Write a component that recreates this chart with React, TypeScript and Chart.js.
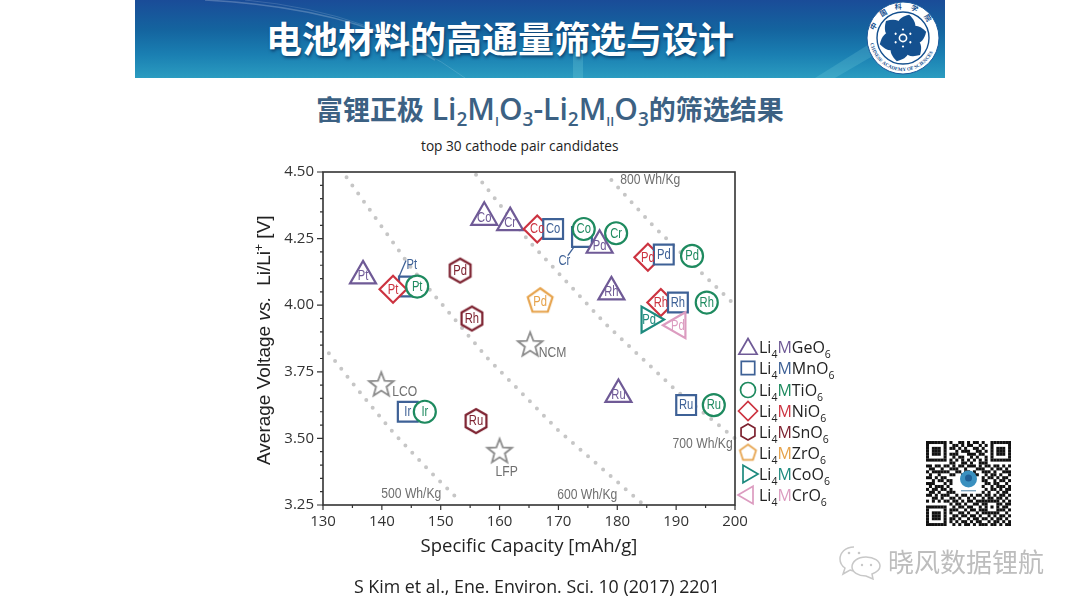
import React, { useEffect, useRef } from 'react';
import { Chart, registerables } from 'chart.js';
import { drawPoint } from 'chart.js/helpers';

Chart.register(...registerables);

// Values: capacity in mAh/g, voltage in V, metal inside each marker
const geCapacity = [136.8, 157.4, 161.8, 177, 179, 180.2];
const geVoltage = [4.11, 4.33, 4.31, 4.225, 4.05, 3.665];
const geMetals = ['Pt', 'Co', 'Cr', 'Pd', 'Rh', 'Ru'];

const mnCapacity = [169.1, 187.9, 190.3, 191.7, 144.4];
const mnVoltage = [4.286, 4.19, 4.01, 3.625, 3.6];
const mnMetals = ['Co', 'Pd', 'Rh', 'Ru', 'Ir'];

// these two sit behind the other markers and are named through a leader line
const mnHiddenCapacity = [144.6, 174];
const mnHiddenVoltage = [4.07, 4.256];

const tiCapacity = [146, 174.3, 179.8, 192.7, 195.2, 196.4, 147.3];
const tiVoltage = [4.07, 4.286, 4.27, 4.185, 4.01, 3.625, 3.6];
const tiMetals = ['Pt', 'Co', 'Cr', 'Pd', 'Rh', 'Ru', 'Ir'];

const niCapacity = [141.9, 166.4, 185.2, 187.4];
const niVoltage = [4.06, 4.286, 4.18, 4.01];
const niMetals = ['Pt', 'Co', 'Pd', 'Rh'];

const snCapacity = [153.3, 155.3, 156];
const snVoltage = [4.13, 3.95, 3.565];
const snMetals = ['Pd', 'Rh', 'Ru'];

const zrCapacity = [166.9];
const zrVoltage = [4.015];
const zrMetals = ['Pd'];

const coCapacity = [185.4];
const coVoltage = [3.946];
const coMetals = ['Pd'];

const crCapacity = [190.3];
const crVoltage = [3.925];
const crMetals = ['Pd'];

const refCapacity = [139.9, 165.2, 160];
const refVoltage = [3.7, 3.85, 3.45];

// dotted iso-energy guides
const wh500Capacity = [131, 136, 142, 148, 153];
const wh500Voltage = [3.82, 3.68, 3.52, 3.38, 3.27];
const wh600Capacity = [134, 145, 158, 170, 184];
const wh600Voltage = [4.48, 4.14, 3.8, 3.53, 3.26];
const wh700Capacity = [156, 165, 178, 190, 200];
const wh700Voltage = [4.49, 4.24, 3.93, 3.68, 3.5];
const wh800Capacity = [179, 186, 193, 200];
const wh800Voltage = [4.47, 4.3, 4.15, 4.0];

const legendNames = ['Ge', 'Mn', 'Ti', 'Ni', 'Sn', 'Zr', 'Co', 'Cr'];

const PURPLE = '#6f5a96';
const BLUE = '#3e6196';
const GREEN = '#1e8a5f';
const RED = '#cc3340';
const MAROON = '#7d2230';
const ORANGE = '#e6a24a';
const TEAL = '#1d8a7e';
const PINK = '#dc9cc0';
const GREY = '#8b8b8b';
const INK = '#333333';
const SANS = '"Liberation Sans", sans-serif';
const OPEN = '"Open Sans", sans-serif';

const qrRows = [
  '11111110100110101101001111111',
  '10000010011010110010101000001',
  '10111010110101001101001011101',
  '10111010001011100110101011101',
  '10111010111000111011001011101',
  '10000010010110010100101000001',
  '11111110101010101010101111111',
  '00000000110011010011100000000',
  '11011011010110111010110110101',
  '01100100111001000111001011010',
  '10111111001101101001110100111',
  '01001000110010011100101101001',
  '11010110000000000001011010110',
  '00101101100000000001100101101',
  '11100010100000000000110110010',
  '01011101000000000001001011101',
  '10110110100000000000101101011',
  '01101001110000000001010010110',
  '11010111001011010110110101101',
  '00110100110100101001011011010',
  '10101011011010110111111110101',
  '00000000101101001101100011011',
  '11111110010110110010101010110',
  '10000010111001011011100011101',
  '10111010100110100101111110010',
  '10111010011011011010010101101',
  '10111010110100101101101011010',
  '10000010101011010110010110101',
  '11111110010101101011101101011',
];

function outline(points: number[][], size: number, color: string, width: number) {
  const canvas = document.createElement('canvas');
  canvas.width = size;
  canvas.height = size;
  const ctx = canvas.getContext('2d')!;
  ctx.translate(size / 2, size / 2);
  ctx.beginPath();
  points.forEach(([x, y], i) => (i ? ctx.lineTo(x, y) : ctx.moveTo(x, y)));
  ctx.closePath();
  ctx.fillStyle = '#ffffff';
  ctx.fill();
  ctx.strokeStyle = color;
  ctx.lineWidth = width;
  ctx.lineJoin = 'miter';
  ctx.stroke();
  return canvas;
}

function ring(sides: number, radius: number) {
  const pts: number[][] = [];
  for (let i = 0; i < sides; i++) {
    const a = -Math.PI / 2 + (i * 2 * Math.PI) / sides;
    pts.push([Math.cos(a) * radius, Math.sin(a) * radius]);
  }
  return pts;
}

function starRing(outer: number, inner: number) {
  const pts: number[][] = [];
  for (let i = 0; i < 10; i++) {
    const a = -Math.PI / 2 + (i * Math.PI) / 5;
    const r = i % 2 ? inner : outer;
    pts.push([Math.cos(a) * r, Math.sin(a) * r]);
  }
  return pts;
}

const hexagon = (r: number, w = 2.2) => outline(ring(6, r), Math.ceil(r * 2 + 6), MAROON, w);
const pentagon = (r: number, w = 2.2) => outline(ring(5, r), Math.ceil(r * 2 + 6), ORANGE, w);

// [x, y, text] in data units; free labels on the plot
const guideLabels: [number, number, string][] = [
  [145, 3.29, '500 Wh/Kg'],
  [174.9, 3.288, '600 Wh/Kg'],
  [194.5, 3.48, '700 Wh/Kg'],
  [185.6, 4.47, '800 Wh/Kg'],
];
const refLabels: [number, number, string][] = [
  [143.9, 3.675, 'LCO'],
  [169, 3.82, 'NCM'],
  [161.2, 3.375, 'LFP'],
];
const leaderLabels: [number, number, string][] = [
  [145.1, 4.152, 'Pt'],
  [171, 4.166, 'Cr'],
];

// the paper's labels are in a condensed face, so squeeze the installed one
function narrowText(ctx: CanvasRenderingContext2D, text: string, x: number, y: number, squeeze: number) {
  ctx.fillText(text, x, y, ctx.measureText(text).width * squeeze);
}

type Run = { text: string; color?: string; font: string; dy?: number };

function drawRuns(ctx: CanvasRenderingContext2D, runs: Run[], x: number, y: number) {
  let cx = x;
  runs.forEach((run) => {
    ctx.font = run.font;
    ctx.fillStyle = run.color || '#222222';
    ctx.fillText(run.text, cx, y + (run.dy || 0));
    cx += ctx.measureText(run.text).width;
  });
  return cx - x;
}

function ChartPanel() {
  const canvasRef = useRef<HTMLCanvasElement>(null);

  useEffect(() => {
    if (!canvasRef.current) return;

    const series = [
      { xs: geCapacity, ys: geVoltage, names: geMetals, color: PURPLE, style: 'triangle', radius: 15, rotation: 0, order: 6 },
      { xs: mnCapacity, ys: mnVoltage, names: mnMetals, color: BLUE, style: 'rect', radius: 14, rotation: 0, order: 4 },
      { xs: tiCapacity, ys: tiVoltage, names: tiMetals, color: GREEN, style: 'circle', radius: 11, rotation: 0, order: 3 },
      { xs: niCapacity, ys: niVoltage, names: niMetals, color: RED, style: 'rectRot', radius: 13.5, rotation: 0, order: 5 },
      { xs: snCapacity, ys: snVoltage, names: snMetals, color: MAROON, style: hexagon(12), radius: 12, rotation: 0, order: 3 },
      { xs: zrCapacity, ys: zrVoltage, names: zrMetals, color: ORANGE, style: pentagon(13), radius: 13, rotation: 0, order: 3 },
      { xs: coCapacity, ys: coVoltage, names: coMetals, color: TEAL, style: 'triangle', radius: 15, rotation: 90, order: 1 },
      { xs: crCapacity, ys: crVoltage, names: crMetals, color: PINK, style: 'triangle', radius: 15, rotation: 270, order: 2 },
    ];

    const legendMarks: any[] = [
      { style: 'triangle', radius: 10.5, rotation: 0, color: PURPLE },
      { style: 'rect', radius: 9.5, rotation: 0, color: BLUE },
      { style: 'circle', radius: 7.5, rotation: 0, color: GREEN },
      { style: 'rectRot', radius: 9.5, rotation: 0, color: RED },
      { style: hexagon(8, 1.7), radius: 8, rotation: 0, color: MAROON },
      { style: pentagon(8.5, 1.7), radius: 8.5, rotation: 0, color: ORANGE },
      { style: 'triangle', radius: 10, rotation: 90, color: TEAL },
      { style: 'triangle', radius: 10, rotation: 270, color: PINK },
    ];
    const legendRowsY = [347, 368, 390, 411, 432, 453, 474, 495];

    const guide = (xs: number[], ys: number[]) => ({
      type: 'scatter' as const,
      data: xs.map((x, i) => ({ x, y: ys[i] })),
      showLine: true,
      borderColor: '#c6c6c6',
      borderWidth: 4,
      borderDash: [0, 10],
      borderCapStyle: 'round' as const,
      pointRadius: 0,
      order: 20,
    });
    const leader = (xs: number[], ys: number[]) => ({
      type: 'scatter' as const,
      data: xs.map((x, i) => ({ x, y: ys[i] })),
      showLine: true,
      borderColor: BLUE,
      borderWidth: 1.3,
      pointRadius: 0,
      order: 12,
    });

    const datasets: any[] = [
      guide(wh500Capacity, wh500Voltage),
      guide(wh600Capacity, wh600Voltage),
      guide(wh700Capacity, wh700Voltage),
      guide(wh800Capacity, wh800Voltage),
      leader([142.9, 144.1], [4.106, 4.168]),
      leader([173.1, 171.6], [4.233, 4.186]),
      {
        label: 'Li4MMnO6 hidden',
        data: mnHiddenCapacity.map((x, i) => ({ x, y: mnHiddenVoltage[i] })),
        pointStyle: 'rect',
        pointRadius: 14,
        pointBorderWidth: 2.2,
        pointBorderColor: BLUE,
        pointBackgroundColor: '#ffffff',
        order: 10,
      },
      {
        label: 'Reference',
        data: refCapacity.map((x, i) => ({ x, y: refVoltage[i] })),
        pointStyle: outline(starRing(13, 5.5), 32, GREY, 1.8),
        pointRadius: 13,
        order: 9,
      },
      ...series.map((s, idx) => ({
        label: 'Li4M' + legendNames[idx] + 'O6',
        data: s.xs.map((x, i) => ({ x, y: s.ys[i] })),
        pointStyle: s.style,
        pointRadius: s.radius,
        pointRotation: s.rotation,
        pointBorderWidth: 2.2,
        pointBorderColor: s.color,
        pointBackgroundColor: '#ffffff',
        order: s.order,
      })),
    ];

    const overlay = {
      id: 'overlay',
      afterDraw(chart: any) {
        const { ctx, chartArea: area, scales } = chart;
        const xScale = scales.x;
        const yScale = scales.y;
        ctx.save();

        // frame and ticks
        ctx.strokeStyle = INK;
        ctx.lineWidth = 1.6;
        ctx.strokeRect(area.left, area.top, area.right - area.left, area.bottom - area.top);
        ctx.lineWidth = 1.2;
        ctx.beginPath();
        xScale.ticks.forEach((t: any) => {
          const px = xScale.getPixelForValue(t.value);
          ctx.moveTo(px, area.bottom);
          ctx.lineTo(px, area.bottom + (t.value % 10 === 0 ? 5 : 3));
        });
        yScale.ticks.forEach((t: any) => {
          const py = yScale.getPixelForValue(t.value);
          const major = Math.round(t.value * 100) % 25 === 0;
          ctx.moveTo(area.left, py);
          ctx.lineTo(area.left - (major ? 6 : 3), py);
        });
        ctx.stroke();

        // metal names inside the markers
        ctx.textAlign = 'center';
        ctx.textBaseline = 'middle';
        ctx.font = '14px ' + SANS;
        series.forEach((s) => {
          ctx.fillStyle = s.color;
          s.names.forEach((name, i) => {
            narrowText(ctx, name, xScale.getPixelForValue(s.xs[i]), yScale.getPixelForValue(s.ys[i]) + 0.5, 0.8);
          });
        });

        ctx.fillStyle = '#6f6f6f';
        ctx.font = '15px ' + SANS;
        [...guideLabels, ...refLabels].forEach(([x, y, text]) => {
          narrowText(ctx, text, xScale.getPixelForValue(x), yScale.getPixelForValue(y), 0.81);
        });
        ctx.fillStyle = BLUE;
        ctx.font = '14px ' + SANS;
        leaderLabels.forEach(([x, y, text]) => {
          narrowText(ctx, text, xScale.getPixelForValue(x), yScale.getPixelForValue(y), 0.8);
        });

        // legend on the right of the frame
        ctx.textAlign = 'left';
        ctx.textBaseline = 'alphabetic';
        legendNames.forEach((name, i) => {
          const mark = legendMarks[i];
          const y = legendRowsY[i];
          ctx.strokeStyle = mark.color;
          ctx.fillStyle = 'rgba(255,255,255,0)';
          ctx.lineWidth = 1.7;
          drawPoint(ctx, { pointStyle: mark.style, radius: mark.radius, rotation: mark.rotation, borderWidth: 1.7 }, 748, y + (mark.rotation === 0 && mark.style === 'triangle' ? 2 : 0));
          const big = '16px ' + OPEN;
          const small = '10.5px ' + OPEN;
          drawRuns(ctx, [
            { text: 'Li', font: big },
            { text: '4', font: small, dy: 5 },
            { text: 'M', font: big, color: mark.color },
            { text: name + 'O', font: big },
            { text: '6', font: small, dy: 5 },
          ], 759, y + 6);
        });

        // y axis title has italic and superscript parts, so it is drawn by hand
        ctx.translate(270, 465);
        ctx.rotate(-Math.PI / 2);
        const sans = '19px ' + SANS;
        drawRuns(ctx, [
          { text: 'Average Voltage ', font: sans },
          { text: 'vs.', font: 'italic ' + sans },
          { text: '  Li/Li', font: sans },
          { text: '+', font: '12px ' + SANS, dy: -7 },
          { text: ' [V]', font: sans },
        ], 0, 0);

        ctx.restore();
      },
    };

    const chart = new Chart(canvasRef.current, {
      type: 'scatter',
      data: { datasets },
      plugins: [overlay],
      options: {
        responsive: false,
        animation: false,
        clip: false as any,
        layout: { padding: { left: 263, right: 345, top: 172, bottom: 49 } },
        plugins: { legend: { display: false }, title: { display: false }, tooltip: { enabled: false } },
        scales: {
          x: {
            type: 'linear',
            min: 130,
            max: 200,
            afterFit: (scale: any) => {
              scale.height = 53;
            },
            grid: { display: false, drawTicks: false },
            border: { display: false },
            ticks: {
              stepSize: 5,
              autoSkip: false,
              maxRotation: 0,
              padding: 8,
              color: INK,
              font: { family: 'Open Sans', size: 15 },
              callback: (v: any) => (Number(v) % 10 === 0 ? String(v) : ''),
            },
            title: {
              display: true,
              text: 'Specific Capacity [mAh/g]',
              color: '#222222',
              font: { family: 'Open Sans', size: 18.5 },
              padding: { top: 0, bottom: 0 },
            },
          },
          y: {
            type: 'linear',
            min: 3.25,
            max: 4.5,
            afterFit: (scale: any) => {
              scale.width = 60;
            },
            grid: { display: false, drawTicks: false },
            border: { display: false },
            ticks: {
              stepSize: 0.05,
              autoSkip: false,
              padding: 9,
              color: INK,
              font: { family: 'Open Sans', size: 15 },
              callback: (v: any) => (Math.round(Number(v) * 100) % 25 === 0 ? Number(v).toFixed(2) : ''),
            },
          },
        },
      },
    });

    return () => {
      chart.destroy();
    };
  }, []);

  return <canvas ref={canvasRef} width={1080} height={607} style={{ position: 'absolute', left: 0, top: 0 }} />;
}

function Banner() {
  const petals = [0, 60, 120, 180, 240, 300];
  return (
    <div
      style={{
        position: 'absolute',
        left: 135,
        top: 0,
        width: 810,
        height: 78,
        overflow: 'hidden',
        background: 'linear-gradient(180deg, #1a4c98 0%, #14649f 38%, #1a7fb2 70%, #2b9cc0 100%)',
      }}
    >
      <svg width={810} height={78} style={{ position: 'absolute', left: 0, top: 0 }}>
        <path d="M70 0 Q220 8 300 60" stroke="#ffffff" strokeOpacity={0.22} strokeWidth={1.5} fill="none" />
        <path d="M110 0 Q240 12 330 78" stroke="#ffffff" strokeOpacity={0.14} strokeWidth={1} fill="none" />
        <rect x={438} y={52} width={10} height={26} fill="#7fd6e0" fillOpacity={0.25} />
        <path d="M680 78 L760 28 L772 36 L700 78 Z" fill="#7fd6e0" fillOpacity={0.22} />
        <circle cx={768} cy={38} r={36} fill="#ffffff" stroke="#1b5a9c" strokeWidth={1} />
        <circle cx={768} cy={38} r={26} fill="#ffffff" stroke="#14508f" strokeWidth={1.4} />
        <defs>
          <path id="logoTop" d="M739 38 A29 29 0 0 1 797 38" />
          <path id="logoBottom" d="M735 38 A33 33 0 0 0 801 38" />
        </defs>
        <text fill="#14508f" fontSize={7} fontFamily="Noto Sans CJK SC" fontWeight={700} letterSpacing={8}>
          <textPath href="#logoTop" startOffset="8%">中国科学院</textPath>
        </text>
        <text fill="#14508f" fontSize={5} fontFamily="Liberation Serif" fontWeight={700}>
          <textPath href="#logoBottom" startOffset="5%">CHINESE ACADEMY OF SCIENCES</textPath>
        </text>
        {petals.map((a) => (
          <path
            key={a}
            d="M768 38 C755 28 757 20 768 14 C779 20 781 28 768 38 Z"
            fill="#14508f"
            transform={`rotate(${a + 15} 768 38)`}
          />
        ))}
        <circle cx={768} cy={38} r={11} fill="#14508f" />
        {petals.map((a) => (
          <circle key={a} cx={768} cy={29.5} r={1.1} fill="#ffffff" transform={`rotate(${a} 768 38)`} />
        ))}
        <circle cx={768} cy={38} r={3.6} fill="none" stroke="#ffffff" strokeWidth={1.6} />
      </svg>
      <div
        style={{
          position: 'absolute',
          left: 131,
          top: 11,
          fontFamily: '"Noto Sans CJK SC", sans-serif',
          fontWeight: 700,
          fontSize: 36,
          lineHeight: '52px',
          color: '#ffffff',
          whiteSpace: 'nowrap',
          textShadow: '1px 2px 3px rgba(0,20,60,0.55)',
        }}
      >
        电池材料的高通量筛选与设计
      </div>
    </div>
  );
}

function Heading() {
  const sub = { fontSize: 19, verticalAlign: -6, lineHeight: 0 } as const;
  return (
    <div
      style={{
        position: 'absolute',
        left: 316,
        top: 90,
        whiteSpace: 'nowrap',
        fontFamily: '"Open Sans", "Noto Sans CJK SC", sans-serif',
        fontWeight: 600,
        fontSize: 30,
        lineHeight: '38px',
        color: '#3c6183',
      }}
    >
      <span style={{ fontFamily: '"Noto Sans CJK SC"', fontWeight: 700, fontSize: 27 }}>富锂正极</span> Li<sub style={sub}>2</sub>M<sub style={{ ...sub, fontSize: 13 }}>I</sub>O<sub style={sub}>3</sub>-Li<sub style={sub}>2</sub>M
      <sub style={{ ...sub, fontSize: 13 }}>II</sub>O<sub style={sub}>3</sub>
      <span style={{ fontFamily: '"Noto Sans CJK SC"', fontWeight: 700, fontSize: 27 }}>的筛选结果</span>
    </div>
  );
}

function QrCode() {
  const cell = 85 / qrRows.length;
  return (
    <svg width={85} height={85} style={{ position: 'absolute', left: 926, top: 441, filter: 'blur(0.45px)' }}>
      {qrRows.map((row, r) =>
        row.split('').map((bit, c) =>
          bit === '1' ? <rect key={r + '-' + c} x={c * cell} y={r * cell} width={cell + 0.1} height={cell + 0.1} fill="#111111" /> : null,
        ),
      )}
      <circle cx={42.5} cy={38} r={8.5} fill="#3a90bf" />
      <circle cx={42.5} cy={37} r={3.5} fill="#1f5f96" />
      <rect x={35} y={49} width={15} height={1.4} fill="#7fa6c0" />
    </svg>
  );
}

function Watermark() {
  return (
    <>
      <svg width={46} height={36} style={{ position: 'absolute', left: 838, top: 544 }}>
        <path d="M16 3 C7 3 2 9 2 15 C2 19 4 22 7 24 L5 30 L12 26 C14 27 16 27 18 27" fill="none" stroke="#c8c8c8" strokeWidth={1.5} />
        <path d="M28 13 C19 13 14 18 14 23 C14 28 20 32 28 32 L35 35 L34 30 C39 28 42 26 42 22 C42 17 36 13 28 13 Z" fill="#ffffff" stroke="#c8c8c8" strokeWidth={1.5} />
        <circle cx={11} cy={9} r={1.3} fill="#c8c8c8" />
        <circle cx={21} cy={9} r={1.3} fill="#c8c8c8" />
        <circle cx={24} cy={21} r={1.2} fill="#c8c8c8" />
        <circle cx={33} cy={21} r={1.2} fill="#c8c8c8" />
      </svg>
      <div
        style={{
          position: 'absolute',
          left: 888,
          top: 542,
          fontFamily: '"Noto Sans CJK SC", sans-serif',
          fontSize: 26,
          lineHeight: '38px',
          color: '#bdbdbd',
          whiteSpace: 'nowrap',
        }}
      >
        晓风数据锂航
      </div>
    </>
  );
}

export default function App() {
  return (
    <div style={{ position: 'absolute', left: 0, top: 0, width: 1080, height: 607, overflow: 'hidden', background: '#ffffff' }}>
      <Banner />
      <Heading />
      <div
        style={{
          position: 'absolute',
          left: 421,
          top: 136,
          fontFamily: '"Open Sans", sans-serif',
          fontSize: 13.7,
          lineHeight: '20px',
          color: '#222222',
          whiteSpace: 'nowrap',
        }}
      >
        top 30 cathode pair candidates
      </div>
      <ChartPanel />
      <div
        style={{
          position: 'absolute',
          left: 354,
          top: 574,
          fontFamily: '"Open Sans", sans-serif',
          fontSize: 17.8,
          lineHeight: '24px',
          color: '#222222',
          whiteSpace: 'nowrap',
        }}
      >
        S Kim et al., Ene. Environ. Sci. 10 (2017) 2201
      </div>
      <QrCode />
      <Watermark />
    </div>
  );
}
